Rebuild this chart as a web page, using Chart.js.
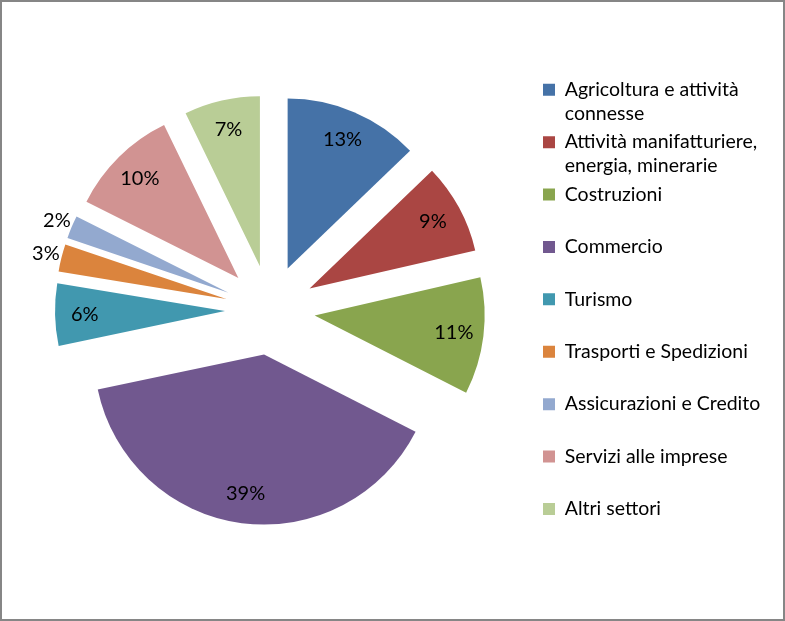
<!DOCTYPE html>
<html>
<head>
<meta charset="utf-8">
<script src="https://cdn.jsdelivr.net/npm/chart.js@4.4.1/dist/chart.umd.min.js"></script>
<style>
  html, body { margin: 0; padding: 0; background: #fff; }
  #wrap { position: relative; width: 785px; height: 621px; }
  #chartJSContainer { display: block; }
  #frame { position: absolute; left: 0; top: 0; width: 785px; height: 621px; box-sizing: border-box; border: 2px solid #868686; pointer-events: none; }
</style>
</head>
<body>
<div id="wrap">
  <canvas id="chartJSContainer" width="785" height="621"></canvas>
  <div id="frame"></div>
</div>
<script>
// sectors, "\n" marks where the legend wraps the text
const categories = [
  'Agricoltura e attività\nconnesse',
  'Attività manifatturiere,\nenergia, minerarie',
  'Costruzioni',
  'Commercio',
  'Turismo',
  'Trasporti e Spedizioni',
  'Assicurazioni e Credito',
  'Servizi alle imprese',
  'Altri settori'
]
// percent (labels show them rounded)
const shares = [12.8, 8.6, 11.1, 39.2, 5.9, 2.6, 2.2, 10.4, 7.2]
const sliceColors = ['#4572A7', '#AA4643', '#89A54E', '#71588F', '#4198AF', '#DB843D', '#93A9CF', '#D19392', '#B9CD96']

const FONT_FAMILY = 'Lato'
const FONT_SIZE = 19.5

// every legend entry takes two lines, like the original
let legendLines = categories.map(c => {
    let lines = c.split('\n')
    while (lines.length < 2) lines.push('')
    return lines
})

// legend width depends on the font, so the right padding is worked out from it
let measureCtx = document.createElement('canvas').getContext('2d')
measureCtx.font = FONT_SIZE + 'px ' + FONT_FAMILY
let legendTextWidth = Math.max(...legendLines.map(lines => {
    let longest = lines.reduce((a, b) => a.length > b.length ? a : b)
    return measureCtx.measureText(longest).width
}))
// box left edge wanted at x=543: 785 - 543 - padding - box - gap - 10
let rightPad = Math.max(0, 785 - 543 - 12 - FONT_SIZE / 2 - 10 - legendTextWidth)

// pulls every slice out along its bisector (excel style exploded pie)
const explodePlugin = {
    id: 'explode',
    beforeDatasetsDraw(chart, args, opts) {
        const area = chart.chartArea
        const meta = chart.getDatasetMeta(0)
        const cx = (area.left + area.right) / 2 + (meta.controller.offsetX || 0)
        const cy = (area.top + area.bottom) / 2 + (meta.controller.offsetY || 0)
        meta.data.forEach(arc => {
            const mid = (arc.startAngle + arc.endAngle) / 2
            arc.x = cx + Math.cos(mid) * opts.distance
            arc.y = cy + Math.sin(mid) * opts.distance
        })
    }
}

// percentage labels, small slices get theirs outside
const sliceLabelsPlugin = {
    id: 'sliceLabels',
    afterDatasetsDraw(chart, args, opts) {
        const ctx = chart.ctx
        const meta = chart.getDatasetMeta(0)
        ctx.save()
        ctx.font = '20px ' + FONT_FAMILY
        ctx.fillStyle = opts.color
        ctx.textAlign = 'center'
        ctx.textBaseline = 'middle'
        meta.data.forEach((arc, i) => {
            const v = chart.data.datasets[0].data[i]
            const mid = (arc.startAngle + arc.endAngle) / 2
            const r = v >= 5 ? arc.outerRadius * 0.825 : arc.outerRadius + 16
            ctx.fillText(Math.round(v) + '%', arc.x + Math.cos(mid) * r, arc.y + Math.sin(mid) * r)
        })
        ctx.restore()
    }
}

let options = {
    type: 'pie',
    data: {
        labels: legendLines,
        datasets: [{
            data: shares,
            backgroundColor: sliceColors,
            borderWidth: 0,
            radius: 170
        }]
    },
    options: {
        responsive: false,
        animation: false,
        layout: {
            padding: { left: 1.4, right: rightPad, top: 68.4, bottom: 69.4 }
        },
        plugins: {
            legend: {
                position: 'right',
                align: 'end',
                labels: {
                    boxWidth: 12,
                    boxHeight: 12,
                    padding: 4.4,
                    color: '#000',
                    font: { family: FONT_FAMILY, size: FONT_SIZE, lineHeight: '24px' }
                }
            },
            tooltip: { enabled: true },
            explode: { distance: 45 },
            sliceLabels: { color: '#000' }
        }
    },
    plugins: [explodePlugin, sliceLabelsPlugin]
}

let ctx = document.getElementById('chartJSContainer').getContext('2d')
window.chart = new Chart(ctx, options)
</script>
</body>
</html>
